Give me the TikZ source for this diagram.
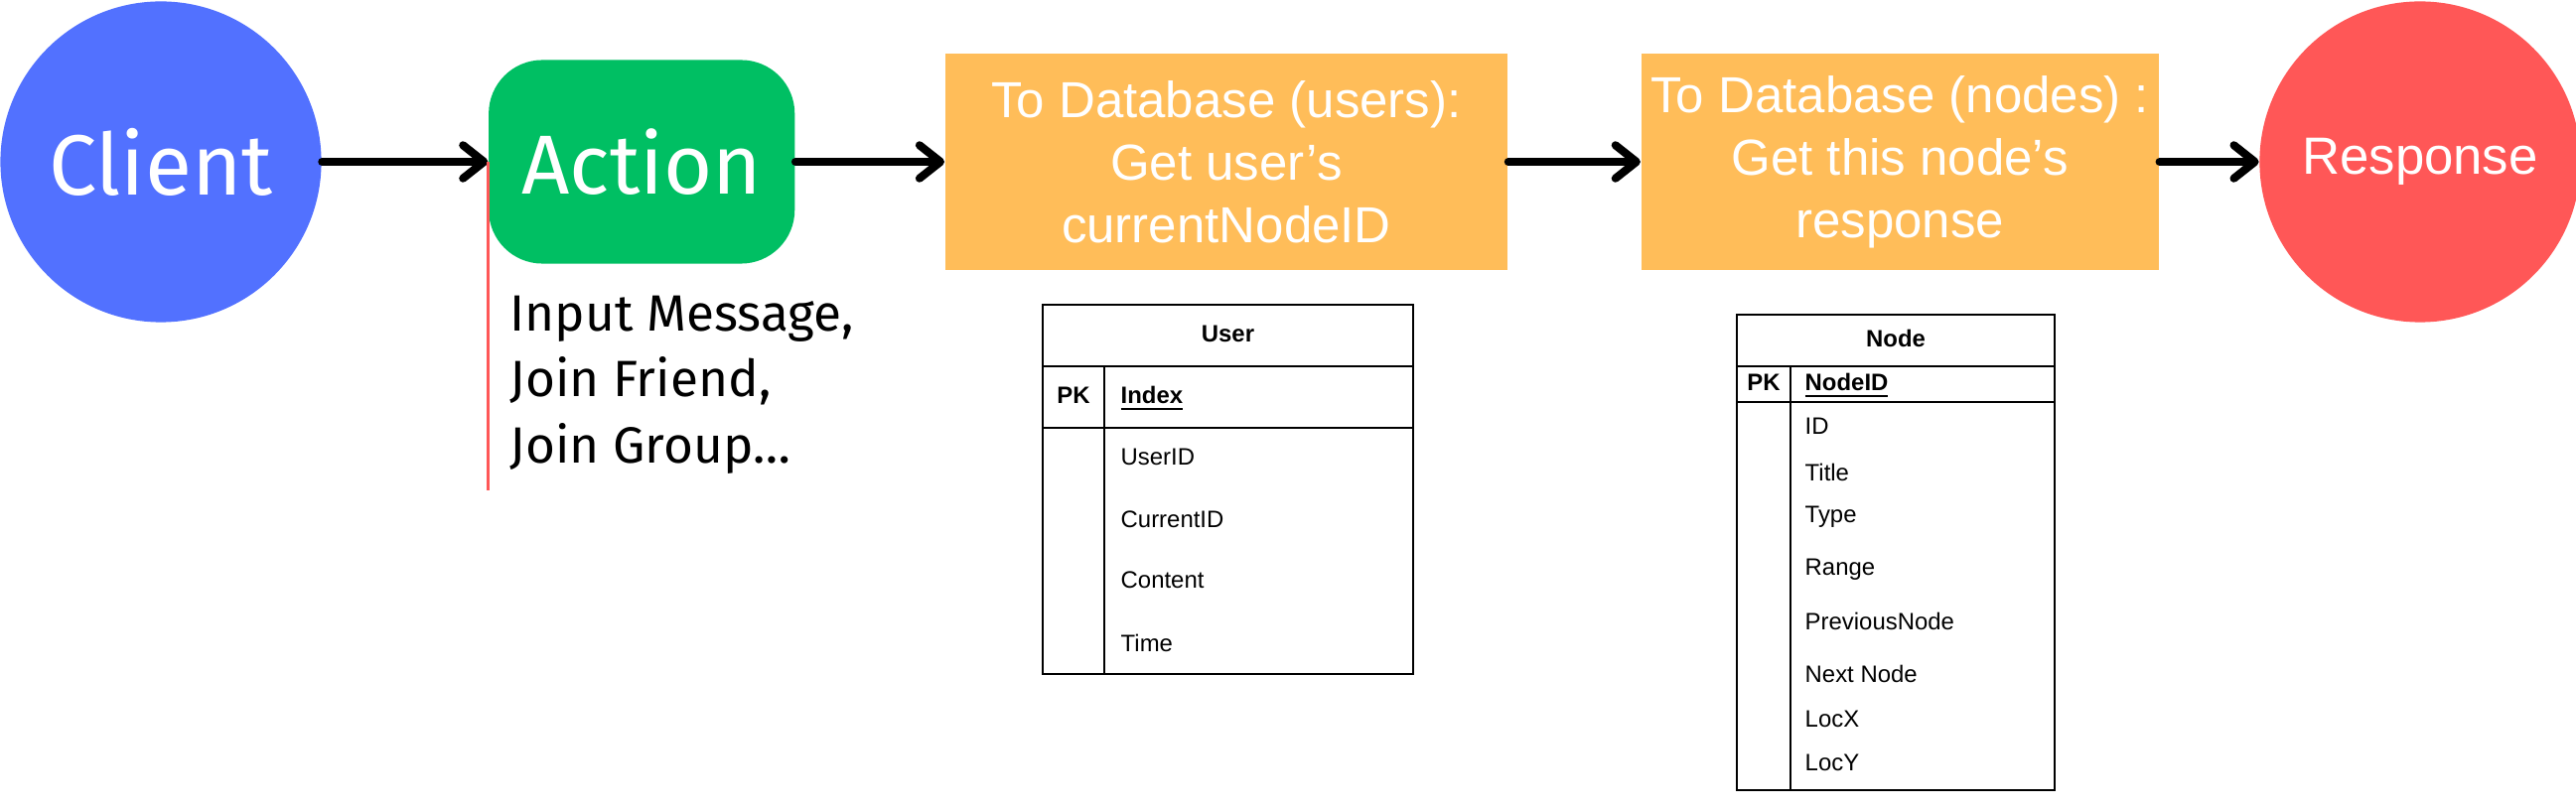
\documentclass[tikz,border=0pt]{standalone}
\usepackage{fontspec}
\setmainfont{Fira Sans}
\newfontfamily\helv{Liberation Sans}
\usetikzlibrary{positioning, arrows.meta}

\definecolor{clientblue}{HTML}{5271FF}
\definecolor{actiongreen}{HTML}{00BF63}
\definecolor{dborange}{HTML}{FFBD59}
\definecolor{respred}{HTML}{FF5757}

\begin{document}
\begin{tikzpicture}[
    x=0.01cm, y=-0.01cm,
    circ/.style={circle, minimum size=3.23cm, inner sep=0pt, text=white},
    dbbox/.style={fill=dborange, minimum height=2.18cm, inner sep=0pt, align=center, text=white, font=\helv\fontsize{14.5}{17.9}\selectfont},
    arr/.style={-{Straight Barb[length=6pt, width=9.5pt, round]}, line width=2.3pt, line cap=round},
    tcell/.style={draw, line width=0.7pt, inner sep=0pt, outer sep=0pt},
    tbold/.style={inner sep=0pt, font=\helv\bfseries\fontsize{6.8}{8}\selectfont},
    fld/.style={inner sep=0pt, anchor=base west, font=\helv\fontsize{6.8}{8}\selectfont}
  ]
    \useasboundingbox (0,0) rectangle (2594,816);

    % main flow
    \node[circ, fill=clientblue, font=\fontsize{24.5}{29}\selectfont] (client) at (162,163) {Client};
    \node[fill=actiongreen, rounded corners=0.54cm, minimum width=3.08cm, minimum height=2.05cm, text=white,
          font=\fontsize{24}{29}\selectfont, right=1.67cm of client] (action) {Action};
    \node[dbbox, minimum width=5.66cm, right=1.5cm of action] (dbusers) {To Database (users):\\Get user’s\\currentNodeID};
    \node[dbbox, minimum width=5.21cm, right=1.33cm of dbusers] (dbnodes) {To Database (nodes) :\\Get this node’s\\response};
    \node[circ, fill=respred, font=\helv\fontsize{15}{18}\selectfont, right=1.0cm of dbnodes] (response) {Response};

    \draw[arr] (client) -- (action);
    \draw[arr] (action) -- (dbusers);
    \draw[arr] (dbusers) -- (dbnodes);
    \draw[arr] (dbnodes) -- (response);

    % action kinds
    \coordinate (redend) at (492,494);
    \draw[respred, line width=0.85pt] (action.west) -- (action.west |- redend);
    \node[anchor=north west, inner sep=0pt, align=left, font=\fontsize{14.6}{19}\selectfont] (kinds) at (513,297)
      {Input Message,\\Join Friend,\\Join Group\ldots};

    % user table
    \node[tcell, minimum width=3.73cm, minimum height=0.62cm] (userhead) at (1236.5,338) {};
    \node[tcell, minimum width=3.73cm, minimum height=0.62cm, below=0pt of userhead] (userpk) {};
    \node[tcell, minimum width=3.73cm, minimum height=2.48cm, below=0pt of userpk] (userbody) {};
    \draw[line width=0.7pt] ([xshift=0.62cm]userpk.north west) -- ([xshift=0.62cm]userbody.south west);
    \node[tbold, anchor=base] (usertitle) at (1236.5,345) {User};
    \node[tbold, anchor=base] (userpkl) at (1081,407) {PK};
    \node[tbold, anchor=base west] (userkey) at (1128,407) {\underline{Index}};
    \node[fld] (f1) at (1128,469) {UserID};
    \node[fld] (f2) at (1128,532) {CurrentID};
    \node[fld] (f3) at (1128,593) {Content};
    \node[fld] (f4) at (1128,657) {Time};

    % node table
    \node[tcell, minimum width=3.2cm, minimum height=0.52cm] (nodehead) at (1909,343) {};
    \node[tcell, minimum width=3.2cm, minimum height=0.36cm, below=0pt of nodehead] (nodepk) {};
    \node[tcell, minimum width=3.2cm, minimum height=3.91cm, below=0pt of nodepk] (nodebody) {};
    \draw[line width=0.7pt] ([xshift=0.54cm]nodepk.north west) -- ([xshift=0.54cm]nodebody.south west);
    \node[tbold, anchor=base] (nodetitle) at (1909,350) {Node};
    \node[tbold, anchor=base] (nodepkl) at (1776,394) {PK};
    \node[tbold, anchor=base west] (nodekey) at (1817,394) {\underline{NodeID}};
    \node[fld] (g1) at (1817,438) {ID};
    \node[fld] (g2) at (1817,485) {Title};
    \node[fld] (g3) at (1817,527) {Type};
    \node[fld] (g4) at (1817,580) {Range};
    \node[fld] (g5) at (1817,635) {PreviousNode};
    \node[fld] (g6) at (1817,688) {Next Node};
    \node[fld] (g7) at (1817,732) {LocX};
    \node[fld] (g8) at (1817,777) {LocY};
  \end{tikzpicture}
\end{document}
